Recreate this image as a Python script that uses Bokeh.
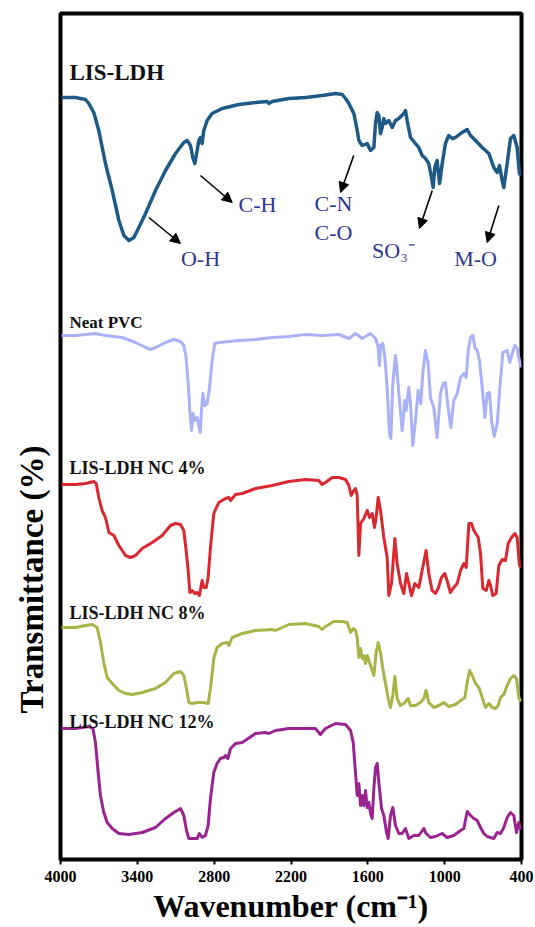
import math
from bokeh.plotting import figure
from bokeh.models import Range1d, FixedTicker, Label, Arrow, NormalHead, Title
from bokeh.embed import file_html
from bokeh.resources import INLINE

# ---------------- data (wavenumber cm-1, stacked transmittance a.u.) ----------------
lis_ldh_wn = [3992, 3883, 3805, 3779, 3740, 3701, 3649, 3596, 3544, 3505, 3466, 3427, 3388, 3336, 3258, 3180,
              3102, 3037, 3011, 2985, 2967, 2951, 2933, 2920, 2907, 2894, 2881, 2855, 2816, 2738, 2607, 2477,
              2386, 2373, 2347, 2217, 2087, 1957, 1852, 1800, 1774, 1748, 1709, 1683, 1670, 1644, 1605, 1579,
              1553, 1540, 1527, 1514, 1501, 1488, 1475, 1462, 1436, 1410, 1384, 1358, 1319, 1306, 1293, 1267,
              1228, 1202, 1176, 1150, 1124, 1103, 1090, 1077, 1059, 1040, 1019, 994, 968, 941, 915, 876, 824,
              798, 759, 707, 655, 616, 590, 572, 551, 538, 512, 486, 460, 434, 416, 405]
lis_ldh_t = [762, 762, 760, 756, 747, 729, 696, 669, 639, 624, 619, 622, 632, 646, 669, 689,
             706, 717, 719, 714, 702, 696, 709, 719, 722, 716, 729, 739, 746, 751, 755, 757,
             758, 756, 758, 761, 762, 764, 766, 765, 761, 756, 746, 729, 719, 714, 716, 709,
             712, 736, 747, 744, 726, 732, 741, 736, 739, 732, 739, 741, 746, 749, 739, 722,
             716, 712, 704, 701, 696, 682, 672, 692, 699, 676, 696, 716, 724, 721, 722, 726, 730,
             724, 719, 712, 706, 692, 687, 694, 679, 672, 696, 721, 724, 712, 686, 684]

pvc_wn = [3992, 3883, 3727, 3649, 3518, 3414, 3336, 3297, 3258, 3180, 3115, 3063, 3037, 3019, 3003, 2990,
          2977, 2964, 2951, 2933, 2920, 2909, 2899, 2888, 2873, 2855, 2836, 2816, 2795, 2764, 2685, 2607,
          2477, 2347, 2217, 2087, 1957, 1826, 1748, 1696, 1644, 1579, 1540, 1519, 1509, 1501, 1483, 1467,
          1449, 1431, 1420, 1405, 1384, 1371, 1353, 1332, 1311, 1301, 1280, 1267, 1249, 1228, 1207, 1186,
          1171, 1150, 1129, 1111, 1085, 1059, 1033, 1012, 994, 973, 952, 929, 902, 876, 850, 832, 816,
          798, 780, 764, 746, 728, 707, 686, 668, 650, 634, 613, 590, 569, 546, 512, 491, 473, 452, 434,
          416, 405]
pvc_t = [524, 524, 526, 524, 522, 517, 512, 510, 512, 517, 520, 518, 514, 502, 476, 449,
         429, 446, 439, 442, 434, 427, 449, 466, 454, 456, 472, 499, 516, 517, 518, 519,
         520, 522, 523, 525, 524, 525, 521, 526, 521, 526, 521, 512, 494, 514, 516, 502,
         472, 426, 421, 476, 504, 487, 459, 429, 459, 449, 472, 456, 414, 439, 469, 456,
         486, 509, 496, 462, 452, 422, 466, 476, 477, 452, 432, 459, 466, 482, 486, 482, 509,
         522, 524, 512, 509, 499, 472, 442, 466, 467, 439, 423, 436, 472, 507, 509, 497, 506, 514, 511,
         499, 492]

nc4_wn = [3992, 3883, 3805, 3740, 3721, 3701, 3675, 3649, 3622, 3583, 3544, 3492, 3453, 3414, 3362, 3284,
          3206, 3141, 3102, 3063, 3037, 3019, 3003, 2990, 2972, 2951, 2933, 2915, 2894, 2881, 2862, 2847,
          2829, 2803, 2764, 2711, 2685, 2672, 2633, 2581, 2477, 2347, 2217, 2087, 1983, 1957, 1931, 1878,
          1826, 1774, 1748, 1730, 1714, 1696, 1683, 1670, 1657, 1631, 1605, 1587, 1566, 1548, 1535, 1519,
          1501, 1475, 1449, 1436, 1415, 1389, 1371, 1345, 1319, 1298, 1280, 1259, 1233, 1202, 1176, 1145,
          1124, 1098, 1072, 1051, 1025, 999, 981, 955, 929, 902, 876, 850, 832, 811, 791, 772, 738, 720,
          702, 676, 655, 642, 624, 598, 577, 551, 525, 504, 478, 452, 434, 416, 405]
nc4_t = [375, 375, 376, 378, 376, 362, 349, 342, 327, 324, 314, 304, 302, 304, 311, 317,
         324, 334, 336, 335, 329, 309, 289, 267, 269, 266, 267, 264, 279, 272, 272, 282,
         312, 346, 357, 361, 362, 359, 365, 366, 371, 374, 378, 380, 379, 375, 377, 382,
         382, 380, 374, 364, 368, 371, 364, 304, 336, 341, 349, 342, 346, 332, 342, 362,
         349, 322, 302, 264, 276, 321, 296, 276, 266, 286, 276, 264, 276, 272, 289, 309,
         286, 269, 266, 271, 282, 286, 279, 267, 272, 276, 289, 296, 292, 336, 336, 329, 322, 306,
         271, 269, 279, 274, 264, 266, 294, 300, 299, 316, 322, 326, 322, 294, 292]

nc8_wn = [3992, 3883, 3805, 3753, 3714, 3688, 3662, 3636, 3596, 3544, 3492, 3440, 3362, 3258, 3180, 3115,
          3063, 3037, 3016, 2998, 2972, 2933, 2907, 2881, 2847, 2829, 2803, 2777, 2738, 2698, 2685, 2659,
          2581, 2477, 2347, 2321, 2217, 2087, 1983, 1957, 1931, 1866, 1800, 1761, 1735, 1714, 1696, 1683,
          1670, 1657, 1644, 1631, 1618, 1605, 1587, 1571, 1553, 1535, 1519, 1501, 1483, 1462, 1441, 1423,
          1405, 1389, 1371, 1345, 1319, 1285, 1267, 1228, 1189, 1163, 1145, 1124, 1085, 1046, 1007, 968,
          915, 876, 842, 824, 806, 785, 759, 733, 707, 681, 655, 629, 603, 582, 564, 538, 512, 486, 460,
          439, 421, 405]
nc8_t = [232, 232, 234, 235, 232, 217, 197, 182, 176, 169, 166, 165, 167, 171, 177, 186,
         188, 184, 171, 157, 156, 157, 157, 157, 156, 171, 201, 212, 216, 217, 214, 222,
         226, 229, 230, 229, 235, 236, 233, 230, 233, 238, 238, 237, 227, 231, 229, 222,
         202, 211, 201, 204, 196, 204, 197, 191, 184, 207, 217, 207, 191, 176, 161, 152,
         164, 183, 161, 154, 156, 161, 154, 154, 157, 161, 169, 157, 152, 154, 157, 153,
         155, 159, 162, 177, 189, 184, 176, 172, 162, 152, 156, 152, 151, 154, 162, 165, 174, 181, 184,
         181, 162, 158]

nc12_wn = [3992, 3883, 3779, 3747, 3727, 3706, 3688, 3662, 3636, 3596, 3544, 3466, 3362, 3258, 3180, 3115,
           3063, 3037, 3016, 2998, 2959, 2933, 2915, 2894, 2868, 2847, 2829, 2803, 2777, 2751, 2724, 2711,
           2693, 2672, 2633, 2581, 2477, 2399, 2373, 2321, 2217, 2087, 2009, 1970, 1931, 1852, 1774, 1735,
           1714, 1696, 1683, 1670, 1657, 1644, 1631, 1618, 1605, 1592, 1579, 1566, 1553, 1540, 1527, 1514,
           1493, 1475, 1454, 1441, 1423, 1405, 1384, 1358, 1332, 1306, 1280, 1241, 1202, 1163, 1145, 1111,
           1072, 1020, 981, 929, 876, 850, 824, 798, 772, 746, 720, 694, 668, 642, 616, 590, 564, 538, 512,
           486, 460, 439, 421, 405]
nc12_t = [131, 131, 133, 131, 117, 87, 64, 47, 37, 31, 26, 25, 27, 32, 41, 47,
          51, 44, 29, 21, 21, 21, 26, 22, 24, 34, 61, 87, 96, 101, 102, 104,
          101, 111, 116, 117, 126, 127, 126, 129, 131, 131, 131, 125, 131, 136, 135, 129,
          117, 86, 64, 76, 54, 64, 54, 69, 52, 57, 46, 41, 71, 92, 96, 77,
          51, 44, 27, 21, 44, 52, 34, 26, 26, 31, 21, 24, 24, 31, 26, 22,
          23, 26, 22, 24, 29, 31, 48, 44, 41, 39, 32, 26, 23, 22, 21, 27, 26, 32, 42,
          47, 44, 27, 37, 30]

series_names = ["LIS-LDH", "Neat PVC", "LIS-LDH NC 4%", "LIS-LDH NC 8%", "LIS-LDH NC 12%"]
series_colors = ["#1f5a87", "#a9b1f7", "#d9282f", "#a9b347", "#9a248f"]
x_ticks = [4000, 3400, 2800, 2200, 1600, 1000, 400]

# ---------------- figure ----------------
W, H = 535, 927
p = figure(width=W, height=H, output_backend="svg", toolbar_location=None,
           x_range=Range1d(4000, 400), y_range=Range1d(0, 846),
           min_border_left=60, min_border_right=14, min_border_top=13, min_border_bottom=68,
           y_axis_location=None)
p.grid.visible = False
p.background_fill_color = "white"
p.border_fill_color = "white"
p.outline_line_color = "black"
p.outline_line_width = 4

xa = p.xaxis[0]
xa.ticker = FixedTicker(ticks=x_ticks)
xa.axis_line_color = None
xa.major_tick_in = 0
xa.major_tick_out = 5
xa.major_tick_line_width = 2
xa.minor_tick_line_color = None
xa.major_label_text_font = "Liberation Serif"
xa.major_label_text_font_style = "bold"
xa.major_label_text_font_size = "16px"
xa.major_label_text_color = "black"
xa.major_label_standoff = 6
xa.axis_label = "Wavenumber (cm\u207b\u00b9)"
xa.axis_label_text_font = "Liberation Serif"
xa.axis_label_text_font_style = "bold"
xa.axis_label_text_font_size = "32px"
xa.axis_label_text_color = "black"
xa.axis_label_standoff = 3

series = [(lis_ldh_wn, lis_ldh_t, 3.5), (pvc_wn, pvc_t, 3), (nc4_wn, nc4_t, 3),
          (nc8_wn, nc8_t, 3), (nc12_wn, nc12_t, 3)]
for (wn, t, lw), c in zip(series, series_colors):
    p.line(wn, t, line_color=c, line_width=lw, line_join="round")

# series names
name_pos = [(3930, 787, "23px"), (3930, 537, "17px"), (3930, 392, "18px"),
            (3930, 247, "18px"), (3930, 138, "18px")]
for name, (x, y, fs) in zip(series_names, name_pos):
    p.add_layout(Label(x=x, y=y, text=name, text_font="Liberation Serif", text_font_style="bold",
                       text_font_size=fs, text_align="left", text_baseline="middle",
                       text_color="#111111"))

# y axis title (placed low, as in the reference)
ytitle = Title(text="Transmittance (%)", align="left", offset=146, standoff=22,
               text_font="Liberation Serif", text_font_style="bold", text_font_size="33px",
               text_color="black")
p.add_layout(ytitle, "left")

# band annotations
ann_color = "#2e3590"
ann = [("C-H", 2462, 655), ("O-H", 2907, 601), ("C-N", 1868, 656), ("C-O", 1868, 627),
       ("SO\u2083\u207b", 1400, 609), ("M-O", 759, 601)]
for txt, x, y in ann:
    p.add_layout(Label(x=x, y=y, text=txt, text_font="Liberation Serif", text_font_size="22px",
                       text_align="center", text_baseline="middle", text_color=ann_color))

arrows = [(3310, 642, 3063, 616), (2907, 684, 2659, 657), (1710, 704, 1813, 667),
          (1097, 669, 1197, 631), (577, 654, 668, 617)]
for x0, y0, x1, y1 in arrows:
    p.add_layout(Arrow(x_start=x0, y_start=y0, x_end=x1, y_end=y1, line_color="black", line_width=1.6,
                       end=NormalHead(size=10, fill_color="black", line_color="black")))

open("out.html", "w").write(file_html(p, INLINE))
